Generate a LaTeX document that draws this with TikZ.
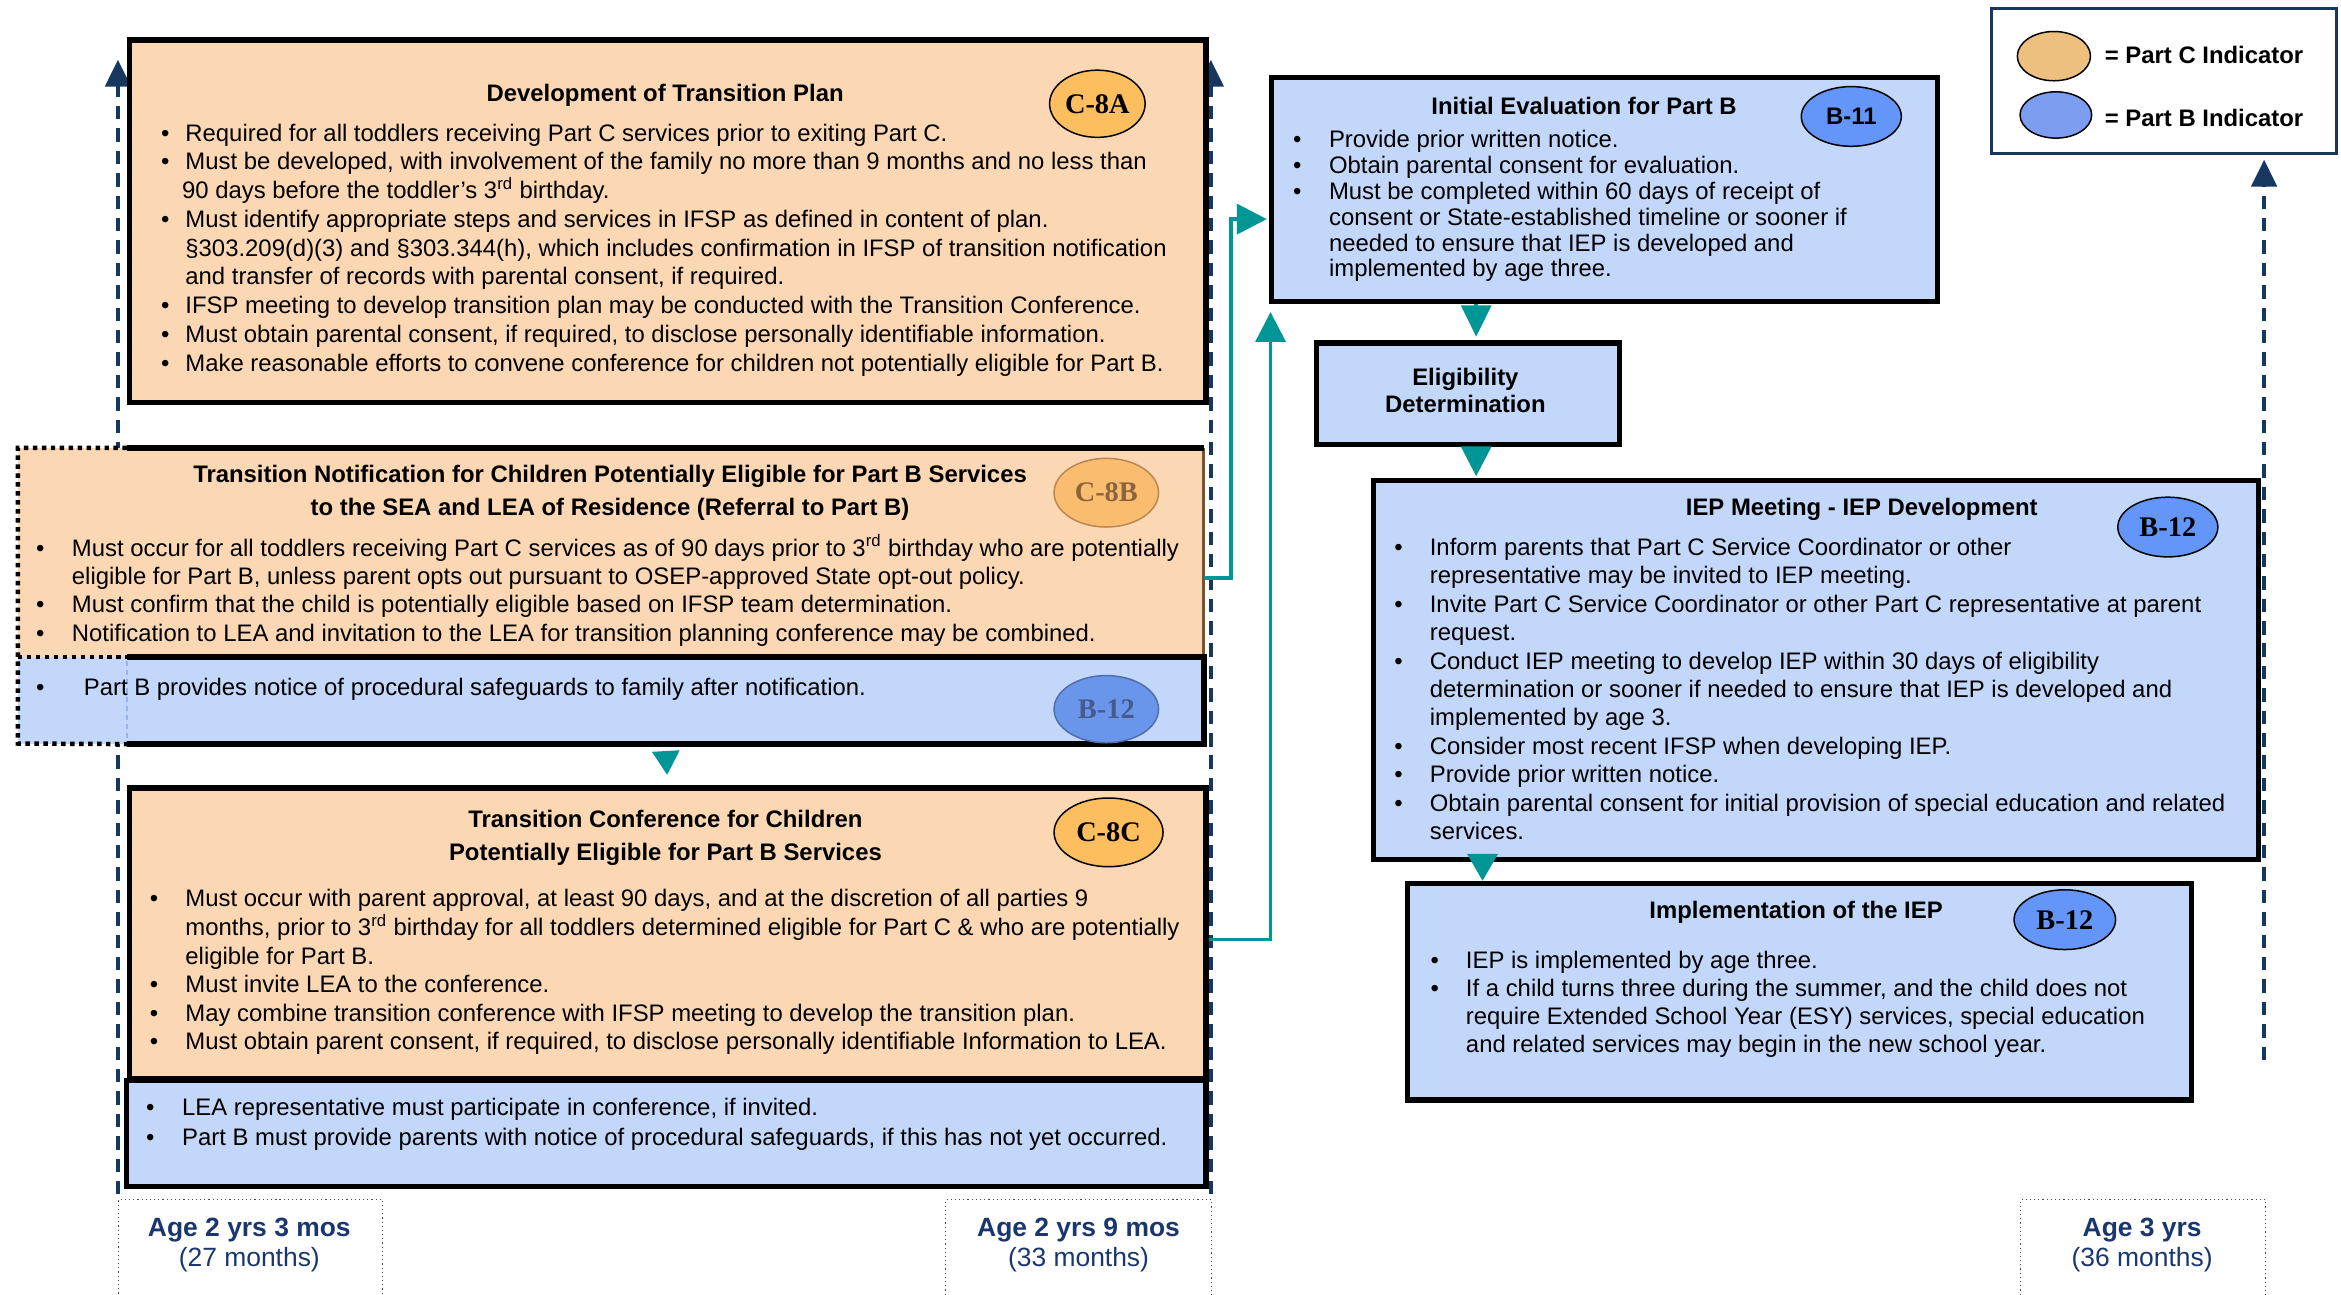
\documentclass[tikz,border=0pt]{standalone}
\usepackage{fontspec}
\setmainfont{Liberation Sans}
\newfontfamily\tmsf{Liberation Serif}
\usetikzlibrary{arrows.meta,shapes.geometric,calc}
\definecolor{peach}{RGB}{252,215,180}
\definecolor{lblue}{RGB}{195,215,250}
\definecolor{corg}{RGB}{253,190,95}
\definecolor{cblue}{RGB}{100,150,250}
\definecolor{navy}{RGB}{23,55,94}
\definecolor{agec}{RGB}{25,55,110}
\definecolor{tealc}{RGB}{0,150,150}
\definecolor{legorg}{RGB}{238,192,128}
\definecolor{legblue}{RGB}{125,158,240}
\definecolor{fadeorg}{RGB}{250,188,110}
\definecolor{fadeorgd}{RGB}{185,135,85}
\definecolor{fadeorgt}{RGB}{140,100,60}
\definecolor{fadeblue}{RGB}{105,150,235}
\definecolor{fadeblued}{RGB}{80,110,170}
\definecolor{fadebluet}{RGB}{70,90,140}
\definecolor{brownb}{RGB}{120,85,50}
\definecolor{faintline}{RGB}{150,180,230}
\newcommand\B{\makebox[\bw][l]{•}}
\newcommand\C{\hspace*{\bw}}
\newcommand\sups[1]{\smash{\textsuperscript{#1}}}
\tikzset{
  box/.style={rectangle, anchor=north west, inner sep=0pt, line width=3.5pt, draw=black},
  pbox/.style={box, fill=peach},
  bbox/.style={box, fill=lblue},
  txt/.style={inner sep=0pt, anchor=base west},
  ttl/.style={inner sep=0pt, anchor=base, font=\bfseries\fontsize{16}{22}\selectfont},
  ind/.style={ellipse, draw=black, line width=1pt, inner sep=0pt, font=\tmsf\bfseries\fontsize{19}{19}\selectfont},
  flow/.style={tealc, line width=2.5pt, -{Triangle[length=20pt,width=20pt]}},
  tline/.style={navy, line width=2.5pt, dash pattern=on 9pt off 6pt, -{Triangle[length=18pt,width=17pt]}},
  agebox/.style={rectangle, draw=black!70, dotted, line width=0.8pt, anchor=north west, inner sep=0pt},
  agetxt/.style={text=agec, inner sep=0pt, anchor=base, font=\fontsize{17.7}{20}\selectfont},
  dotb/.style={black, line width=3pt, dash pattern=on 3pt off 3pt},
}
\begin{document}
\begin{tikzpicture}[x=1pt,y=-1pt]
\useasboundingbox (0,0) rectangle (1568,867);

% timelines
\coordinate (tA0) at (79,800); \coordinate (tA1) at (79,40);
\coordinate (tB0) at (811,800); \coordinate (tB1) at (811,40);
\coordinate (tC0) at (1516.5,710); \coordinate (tC1) at (1516.5,107);
\draw[tline] (tA0) -- (tA1);
\draw[tline] (tB0) -- (tB1);
\draw[tline] (tC0) -- (tC1);

% age boxes
\node[agebox, minimum width=177pt, minimum height=85pt] (ageA) at (79,803) {};
\node[agebox, minimum width=178pt, minimum height=85pt] (ageB) at (633,803) {};
\node[agebox, minimum width=164pt, minimum height=85pt] (ageC) at (1353,803) {};
\node[agetxt] (ageAt) at (167,828.5) {\begin{tabular}[t]{@{}c@{}}\textbf{Age 2 yrs 3 mos}\\(27 months)\end{tabular}};
\node[agetxt] (ageBt) at (722.4,828.5) {\begin{tabular}[t]{@{}c@{}}\textbf{Age 2 yrs 9 mos}\\(33 months)\end{tabular}};
\node[agetxt] (ageCt) at (1434.8,828.5) {\begin{tabular}[t]{@{}c@{}}\textbf{Age 3 yrs}\\(36 months)\end{tabular}};

% Box 1
\node[pbox, minimum width=721pt, minimum height=243pt] (b1) at (85,25) {};
\node[ttl] (b1t) at (445.5,68) {Development of Transition Plan};
\node[ind, fill=corg, minimum width=64pt, minimum height=45pt] (c8a) at (735,69.5) {C-8A};
\node[txt, font=\fontsize{16}{19.26}\selectfont] (t1) at (107.8,94.5) {\def\bw{16.2pt}\begin{tabular}[t]{@{}l@{}}
\B Required for all toddlers receiving Part C services prior to exiting Part C.\\
\B Must be developed, with involvement of the family no more than 9 months and no less than\\
\hspace*{14pt}90 days before the toddler’s 3\sups{rd} birthday.\\
\B Must identify appropriate steps and services in IFSP as defined in content of plan.\\
\C §303.209(d)(3) and §303.344(h), which includes confirmation in IFSP of transition notification\\
\C and transfer of records with parental consent, if required.\\
\B IFSP meeting to develop transition plan may be conducted with the Transition Conference.\\
\B Must obtain parental consent, if required, to disclose personally identifiable information.\\
\B Make reasonable efforts to convene conference for children not potentially eligible for Part B.
\end{tabular}};

% Box 2
\node[rectangle, anchor=north west, inner sep=0pt, fill=peach, minimum width=721pt, minimum height=140pt] (b2) at (85,300) {};
\fill[peach] (12,300) rectangle (85,440);
\node[rectangle, anchor=north west, inner sep=0pt, fill=lblue, minimum width=721pt, minimum height=58pt] (b2b) at (85,440) {};
\fill[lblue] (12,440) rectangle (85,498);
\draw[line width=2pt, brownb] (b2.north east) -- (b2.south east);
\draw[line width=3.5pt] (b2.north west) -- (b2.north east);
\draw[line width=3.5pt] (b2b.north west) -- (b2b.north east) -- (b2b.south east) -- (b2b.south west);
\draw[dotb] (b2.north west) -- (12,300) -- (12,498) -- (b2b.south west);
\draw[dotb] (12,440) -- (b2b.north west);
\draw[faintline, line width=1pt, dashed] (85,443) -- (85,495);
\node[ttl] (b2t) at (408.6,323.5) {\begin{tabular}[t]{@{}c@{}}Transition Notification for Children Potentially Eligible for Part B Services\\to the SEA and LEA of Residence (Referral to Part B)\end{tabular}};
\node[ind, fill=fadeorg, draw=fadeorgd, text=fadeorgt, minimum width=70pt, minimum height=46pt] (c8b) at (741,330) {C-8B};
\node[txt, font=\fontsize{16}{19}\selectfont] (t2) at (24,372.5) {\def\bw{24pt}\begin{tabular}[t]{@{}l@{}}
\B Must occur for all toddlers receiving Part C services as of 90 days prior to 3\sups{rd} birthday who are potentially\\
\C eligible for Part B, unless parent opts out pursuant to OSEP-approved State opt-out policy.\\
\B Must confirm that the child is potentially eligible based on IFSP team determination.\\
\B Notification to LEA and invitation to the LEA for transition planning conference may be combined.
\end{tabular}};
\node[txt, font=\fontsize{16}{19}\selectfont] (t2b) at (24,466) {\def\bw{32pt}\B Part B provides notice of procedural safeguards to family after notification.};
\node[ind, fill=fadeblue, draw=fadeblued, text=fadebluet, minimum width=70pt, minimum height=45pt] (b12a) at (741,475) {B-12};

% Box 3 and 4
\node[pbox, minimum width=721pt, minimum height=195pt] (b3) at (85,526) {};
\node[bbox, minimum width=723pt, minimum height=71pt] (b4) at (83,722) {};
\node[ttl] (b3t) at (445.7,554.3) {\begin{tabular}[t]{@{}c@{}}Transition Conference for Children\\Potentially Eligible for Part B Services\end{tabular}};
\node[ind, fill=corg, minimum width=73pt, minimum height=46pt] (c8c) at (742.5,557.5) {C-8C};
\node[txt, font=\fontsize{16}{19.1}\selectfont] (t3) at (100.2,607.5) {\def\bw{23.8pt}\begin{tabular}[t]{@{}l@{}}
\B Must occur with parent approval, at least 90 days, and at the discretion of all parties 9\\
\C months, prior to 3\sups{rd} birthday for all toddlers determined eligible for Part C \& who are potentially\\
\C eligible for Part B.\\
\B Must invite LEA to the conference.\\
\B May combine transition conference with IFSP meeting to develop the transition plan.\\
\B Must obtain parent consent, if required, to disclose personally identifiable Information to LEA.
\end{tabular}};
\node[txt, font=\fontsize{16}{20.4}\selectfont] (t4) at (97.6,747) {\def\bw{24.2pt}\begin{tabular}[t]{@{}l@{}}
\B LEA representative must participate in conference, if invited.\\
\B Part B must provide parents with notice of procedural safeguards, if this has not yet occurred.
\end{tabular}};

% Right column
\node[bbox, minimum width=446pt, minimum height=150pt] (ie) at (850,50) {};
\node[ttl] (iet) at (1061,76.5) {Initial Evaluation for Part B};
\node[ellipse, draw=black, line width=1pt, inner sep=0pt, fill=cblue, minimum width=67pt, minimum height=40pt, font=\bfseries\fontsize{16}{16}\selectfont] (b11) at (1240,78) {B-11};
\node[txt, font=\fontsize{16}{17.3}\selectfont] (t5) at (866,99) {\def\bw{24pt}\begin{tabular}[t]{@{}l@{}}
\B Provide prior written notice.\\
\B Obtain parental consent for evaluation.\\
\B Must be completed within 60 days of receipt of\\
\C consent or State-established timeline or sooner if\\
\C needed to ensure that IEP is developed and\\
\C implemented by age three.
\end{tabular}};

\node[bbox, minimum width=203pt, minimum height=68pt] (elig) at (880,228) {};
\node[inner sep=0pt, anchor=base, font=\bfseries\fontsize{16}{18}\selectfont] (eligt) at (981.5,258.5) {\begin{tabular}[t]{@{}c@{}}Eligibility\\Determination\end{tabular}};

\node[bbox, minimum width=593pt, minimum height=254pt] (iep) at (918,320) {};
\node[ttl] (iept) at (1247,345) {IEP Meeting - IEP Development};
\node[ind, fill=cblue, minimum width=67pt, minimum height=40pt] (b12b) at (1452,353) {B-12};
\node[txt, font=\fontsize{16}{19.04}\selectfont] (t6) at (933.8,372) {\def\bw{23.7pt}\begin{tabular}[t]{@{}l@{}}
\B Inform parents that Part C Service Coordinator or other\\
\C representative may be invited to IEP meeting.\\
\B Invite Part C Service Coordinator or other Part C representative at parent\\
\C request.\\
\B Conduct IEP meeting to develop IEP within 30 days of eligibility\\
\C determination or sooner if needed to ensure that IEP is developed and\\
\C implemented by age 3.\\
\B Consider most recent IFSP when developing IEP.\\
\B Provide prior written notice.\\
\B Obtain parental consent for initial provision of special education and related\\
\C services.
\end{tabular}};

\node[bbox, minimum width=525pt, minimum height=145pt] (impl) at (941,590) {};
\node[ttl] (implt) at (1203,615) {Implementation of the IEP};
\node[ind, fill=cblue, minimum width=68pt, minimum height=40pt] (b12c) at (1383,616) {B-12};
\node[txt, font=\fontsize{16}{18.7}\selectfont] (t7) at (958,649) {\def\bw{23.7pt}\begin{tabular}[t]{@{}l@{}}
\B IEP is implemented by age three.\\
\B If a child turns three during the summer, and the child does not\\
\C require Extended School Year (ESY) services, special education\\
\C and related services may begin in the new school year.
\end{tabular}};

% Legend
\node[draw=navy, line width=2pt, anchor=north west, inner sep=0pt, minimum width=231pt, minimum height=97pt] (leg) at (1333,5) {};
\node[ellipse, draw=black, line width=1pt, fill=legorg, minimum width=49pt, minimum height=33pt, inner sep=0pt] (legC) at (1375.7,37.6) {};
\node[ellipse, draw=black, line width=1pt, fill=legblue, minimum width=48pt, minimum height=31pt, inner sep=0pt] (legB) at (1377,77) {};
\node[txt, font=\bfseries\fontsize{16}{16}\selectfont] (legCt) at (1409.6,42.5) {= Part C Indicator};
\node[txt, font=\bfseries\fontsize{16}{16}\selectfont] (legBt) at (1409.6,84.8) {= Part B Indicator};

% Flow connectors
\draw[flow, line width=2.5pt, -{Triangle[length=16pt,width=18pt]}, shorten <=5pt, shorten >=7pt] (b2b.south) -- (b3.north);
\draw[flow, shorten >=1.5pt] ([yshift=-17pt]b2.east) -- ++(18,0) |- ([yshift=-20pt]ie.west);
\draw[flow, shorten >=5.5pt] ([yshift=-4pt]b3.east) -| ([xshift=1pt]ie.south west);
\coordinate (e1) at ($(elig.north |- ie.south)+(5.5,0)$);
\draw[flow, -{Triangle[length=21pt,width=20pt]}, shorten >=2.5pt] (e1) -- (e1 |- elig.north);
\coordinate (e2) at ($(elig.south)+(5.5,0)$);
\draw[flow, shorten >=1pt] (e2) -- (e2 |- iep.north);
\coordinate (e3) at ($(iep.south west)+(75,0)$);
\draw[flow, -{Triangle[length=18pt,width=20pt]}] (e3) -- (e3 |- impl.north);
\end{tikzpicture}
\end{document}
